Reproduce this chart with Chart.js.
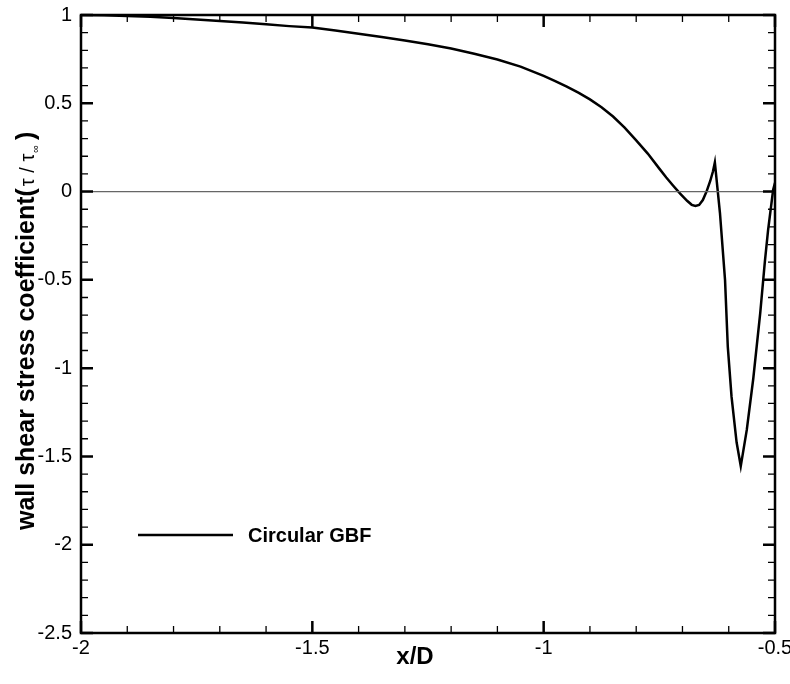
<!DOCTYPE html>
<html>
<head>
<meta charset="utf-8">
<script src="https://cdn.jsdelivr.net/npm/chart.js@4.4.1/dist/chart.umd.min.js"></script>
<style>
  html, body { margin: 0; padding: 0; background: #fff; }
  #wrap { width: 790px; height: 684px; }
</style>
</head>
<body>
<div id="wrap"><canvas id="shearChart" width="790" height="684"></canvas></div>
<script>
// x/D positions along the wall
const xPositions = [
  -2.00, -1.95, -1.90, -1.85, -1.80, -1.75, -1.70, -1.65, -1.60, -1.55,
  -1.50, -1.45, -1.40, -1.35, -1.30, -1.25, -1.20, -1.15, -1.10, -1.05,
  -1.000, -0.975, -0.950, -0.925, -0.900, -0.875, -0.850, -0.825, -0.800, -0.775,
  -0.750, -0.735, -0.720, -0.705, -0.690, -0.680, -0.672, -0.664, -0.656, -0.648,
  -0.640, -0.634, -0.630, -0.619, -0.608, -0.602, -0.594, -0.583, -0.574, -0.561,
  -0.547, -0.532, -0.522, -0.515, -0.504, -0.500
];
// wall shear stress coefficient tau / tau_inf
const shearCoeff = [
  1.000, 0.998, 0.995, 0.990, 0.983, 0.975, 0.966, 0.957, 0.947, 0.937,
  0.929, 0.912, 0.894, 0.876, 0.856, 0.834, 0.810, 0.781, 0.748, 0.708,
  0.655, 0.626, 0.594, 0.560, 0.522, 0.478, 0.425, 0.362, 0.290, 0.215,
  0.130, 0.080, 0.033, -0.012, -0.052, -0.075, -0.082, -0.076, -0.048, 0.000,
  0.060, 0.115, 0.165, -0.120, -0.500, -0.880, -1.160, -1.420, -1.555, -1.350,
  -1.060, -0.690, -0.400, -0.220, 0.010, 0.050
];
const xTicks = [-2, -1.5, -1, -0.5];
const yTicks = [1, 0.5, 0, -0.5, -1, -1.5, -2, -2.5];
const seriesLabel = 'Circular GBF';

const FONT = '"Liberation Sans", Arial, sans-serif';

// frame, inward ticks, zero line, legend and axis titles
const framePlugin = {
  id: 'framePlugin',
  afterDraw(chart) {
    const { ctx, chartArea: a, scales } = chart;
    const xs = scales.x, ys = scales.y;
    ctx.save();

    // zero line
    const y0 = ys.getPixelForValue(0);
    ctx.strokeStyle = '#666';
    ctx.lineWidth = 1.3;
    ctx.beginPath();
    ctx.moveTo(a.left, y0);
    ctx.lineTo(a.right, y0);
    ctx.stroke();

    // ticks
    ctx.strokeStyle = '#000';
    for (let i = 0; i <= 15; i++) {
      const v = -2 + i * 0.1;
      const major = i % 5 === 0;
      const len = major ? 12 : 7;
      ctx.lineWidth = major ? 2.5 : 1.3;
      const px = xs.getPixelForValue(v);
      ctx.beginPath();
      ctx.moveTo(px, a.bottom); ctx.lineTo(px, a.bottom - len);
      ctx.moveTo(px, a.top); ctx.lineTo(px, a.top + len);
      ctx.stroke();
    }
    for (let i = 0; i <= 35; i++) {
      const v = -2.5 + i * 0.1;
      const major = i % 5 === 0;
      const len = major ? 12 : 7;
      ctx.lineWidth = major ? 2.5 : 1.3;
      const py = ys.getPixelForValue(v);
      ctx.beginPath();
      ctx.moveTo(a.left, py); ctx.lineTo(a.left + len, py);
      ctx.moveTo(a.right, py); ctx.lineTo(a.right - len, py);
      ctx.stroke();
    }

    // frame
    ctx.lineWidth = 2.5;
    ctx.strokeRect(a.left, a.top, a.right - a.left, a.bottom - a.top);

    // legend
    ctx.lineWidth = 2.5;
    ctx.beginPath();
    ctx.moveTo(138, 535);
    ctx.lineTo(233, 535);
    ctx.stroke();
    ctx.fillStyle = '#000';
    ctx.font = 'bold 20px ' + FONT;
    ctx.textBaseline = 'middle';
    ctx.textAlign = 'left';
    ctx.fillText(seriesLabel, 248, 536);

    // x title
    ctx.font = 'bold 24px ' + FONT;
    ctx.textAlign = 'center';
    ctx.fillText('x/D', 415, 657);

    // y title, rotated, reading upward from the bottom
    ctx.translate(34, 530);
    ctx.rotate(-Math.PI / 2);
    ctx.textBaseline = 'alphabetic';
    ctx.textAlign = 'left';
    let x = 0;
    ctx.font = 'bold 25px ' + FONT;
    ctx.fillText('wall shear stress coefficient(', x, 0);
    x += ctx.measureText('wall shear stress coefficient(').width + 2;
    ctx.font = '20px ' + FONT;
    ctx.fillText('\u03C4 / \u03C4', x, 0);
    x += ctx.measureText('\u03C4 / \u03C4').width;
    ctx.font = '11px ' + FONT;
    ctx.fillText('\u221E', x + 1, 5);
    x += ctx.measureText('\u221E').width + 6;
    ctx.font = 'bold 25px ' + FONT;
    ctx.fillText(')', x, 0);

    ctx.restore();
  }
};

const ctx = document.getElementById('shearChart').getContext('2d');
new Chart(ctx, {
  type: 'line',
  data: {
    datasets: [{
      label: seriesLabel,
      data: xPositions.map((x, i) => ({ x: x, y: shearCoeff[i] })),
      borderColor: '#000',
      borderWidth: 2.5,
      pointRadius: 0,
      tension: 0,
      fill: false
    }]
  },
  options: {
    responsive: false,
    animation: false,
    layout: { padding: { top: 15, right: 15, left: 0, bottom: 0 } },
    plugins: {
      legend: { display: false },
      tooltip: { enabled: false }
    },
    scales: {
      x: {
        type: 'linear',
        min: -2,
        max: -0.5,
        afterBuildTicks: (scale) => { scale.ticks = xTicks.map(v => ({ value: v })); },
        afterFit: (scale) => { scale.height = 51; scale.paddingLeft = 0; scale.paddingRight = 0; },
        grid: { display: false, drawTicks: false },
        border: { display: false },
        ticks: {
          color: '#000',
          font: { family: FONT, size: 20 },
          padding: 3,
          maxRotation: 0,
          autoSkip: false,
          callback: (v) => String(v)
        }
      },
      y: {
        type: 'linear',
        min: -2.5,
        max: 1,
        afterBuildTicks: (scale) => { scale.ticks = yTicks.map(v => ({ value: v })); },
        afterFit: (scale) => { scale.width = 81; scale.paddingTop = 0; scale.paddingBottom = 0; },
        grid: { display: false, drawTicks: false },
        border: { display: false },
        ticks: {
          color: '#000',
          font: { family: FONT, size: 20 },
          padding: 9,
          autoSkip: false,
          callback: (v) => String(v)
        }
      }
    }
  },
  plugins: [framePlugin]
});
</script>
</body>
</html>
